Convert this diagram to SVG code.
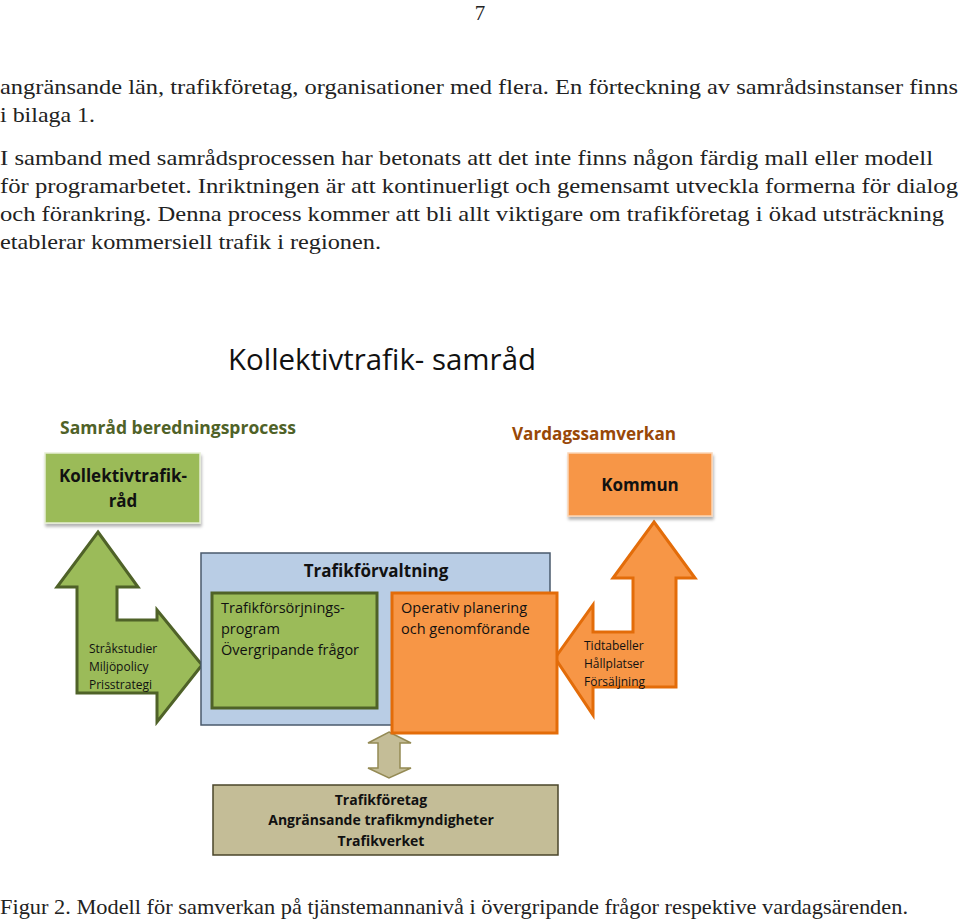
<svg xmlns="http://www.w3.org/2000/svg" width="960" height="919" viewBox="0 0 960 919">
<defs>
<style>
.body{font-family:"Liberation Serif",serif;font-size:21px;fill:#222}
.d{font-family:"Open Sans","Liberation Sans",sans-serif;fill:#111}
.b{font-weight:bold}
.green{fill:#9bbb59;stroke:#4f6228;stroke-width:3}
.orange{fill:#f79646;stroke:#e36c09;stroke-width:3}
</style>
<filter id="sh" x="-10%" y="-10%" width="130%" height="130%"><feDropShadow dx="1" dy="3" stdDeviation="1.5" flood-color="#000" flood-opacity="0.3"/></filter>
</defs>
<rect width="960" height="919" fill="#fff"/>
<text class="body" x="480" y="20" text-anchor="middle">7</text>
<text class="body" x="0" y="94" textLength="958" lengthAdjust="spacingAndGlyphs">angränsande län, trafikföretag, organisationer med flera. En förteckning av samrådsinstanser finns</text>
<text class="body" x="0" y="122" textLength="95" lengthAdjust="spacingAndGlyphs">i bilaga 1.</text>
<text class="body" x="0" y="165" textLength="933" lengthAdjust="spacingAndGlyphs">I samband med samrådsprocessen har betonats att det inte finns någon färdig mall eller modell</text>
<text class="body" x="0" y="193" textLength="958" lengthAdjust="spacingAndGlyphs">för programarbetet. Inriktningen är att kontinuerligt och gemensamt utveckla formerna för dialog</text>
<text class="body" x="0" y="221" textLength="944" lengthAdjust="spacingAndGlyphs">och förankring. Denna process kommer att bli allt viktigare om trafikföretag i ökad utsträckning</text>
<text class="body" x="0" y="249" textLength="381" lengthAdjust="spacingAndGlyphs">etablerar kommersiell trafik i regionen.</text>

<text class="d" x="228" y="370" font-size="29" textLength="308" lengthAdjust="spacingAndGlyphs">Kollektivtrafik- samråd</text>
<text class="d b" x="60" y="434" font-size="18" style="fill:#4f6228" textLength="236" lengthAdjust="spacingAndGlyphs">Samråd beredningsprocess</text>
<text class="d b" x="512" y="440" font-size="18" style="fill:#984807" textLength="164" lengthAdjust="spacingAndGlyphs">Vardagssamverkan</text>

<g id="connectors">
<path id="arrow-green" class="green" d="M98,532 L138,587 L117,587 L117,620 L157,620 L157,610 L202,665 L157,722 L157,693 L77,693 L77,587 L57,587 Z"/>
<path id="arrow-orange" class="orange" d="M654,522 L695,578 L676,578 L676,687 L593,687 L593,715 L555,658 L593,605 L593,632 L633,632 L633,578 L613,578 Z"/>
<path id="arrow-khaki" d="M389,732 L411,743 L400,743 L400,768 L411,768 L389,778 L368,768 L378,768 L378,743 L368,743 Z" fill="#c4bd97" stroke="#948a54" stroke-width="1.5"/>
</g>

<g id="node-kollektivtrafikrad">
<rect x="45" y="453" width="155" height="70" fill="#9bbb59" stroke="#e6eed5" stroke-width="1.5" filter="url(#sh)"/>
<text class="d b" x="123" y="482" font-size="17" text-anchor="middle">Kollektivtrafik-</text>
<text class="d b" x="123" y="507" font-size="17" text-anchor="middle">råd</text>
</g>

<g id="node-kommun">
<rect x="568" y="453" width="144" height="63" fill="#f79646" stroke="#fbd5b5" stroke-width="1.5" filter="url(#sh)"/>
<text class="d b" x="640" y="491" font-size="17" text-anchor="middle">Kommun</text>
</g>

<g id="node-trafikforvaltning">
<rect x="201" y="553" width="349" height="172" fill="#b9cde5" stroke="#4a5a6c" stroke-width="1.5"/>
<text class="d b" x="376" y="577" font-size="17" text-anchor="middle">Trafikförvaltning</text>
</g>

<g id="node-trafikforsorjning">
<rect x="212" y="593" width="165" height="115" class="green"/>
<text class="d" x="221" y="613" font-size="14.5">Trafikförsörjnings-</text>
<text class="d" x="221" y="634" font-size="14.5">program</text>
<text class="d" x="221" y="655" font-size="14.5">Övergripande frågor</text>
</g>

<g id="node-operativ">
<rect x="392" y="593" width="165" height="140" class="orange"/>
<text class="d" x="401" y="613" font-size="14.5">Operativ planering</text>
<text class="d" x="401" y="634" font-size="14.5">och genomförande</text>
</g>

<g id="label-green-arrow">
<text class="d" x="89" y="653" font-size="12">Stråkstudier</text>
<text class="d" x="89" y="671" font-size="12">Miljöpolicy</text>
<text class="d" x="89" y="689" font-size="12">Prisstrategi</text>
</g>
<g id="label-orange-arrow">
<text class="d" x="584" y="650" font-size="12">Tidtabeller</text>
<text class="d" x="584" y="668" font-size="12">Hållplatser</text>
<text class="d" x="584" y="686" font-size="12">Försäljning</text>
</g>

<g id="node-trafikforetag">
<rect x="213" y="785" width="345" height="70" fill="#c4bd97" stroke="#4a452a" stroke-width="1.5"/>
<text class="d b" x="381" y="805" font-size="14" text-anchor="middle">Trafikföretag</text>
<text class="d b" x="381" y="825" font-size="14" text-anchor="middle">Angränsande trafikmyndigheter</text>
<text class="d b" x="381" y="846" font-size="14" text-anchor="middle">Trafikverket</text>
</g>

<text class="body" x="0" y="914" textLength="908" lengthAdjust="spacingAndGlyphs">Figur 2. Modell för samverkan på tjänstemannanivå i övergripande frågor respektive vardagsärenden.</text>
</svg>
